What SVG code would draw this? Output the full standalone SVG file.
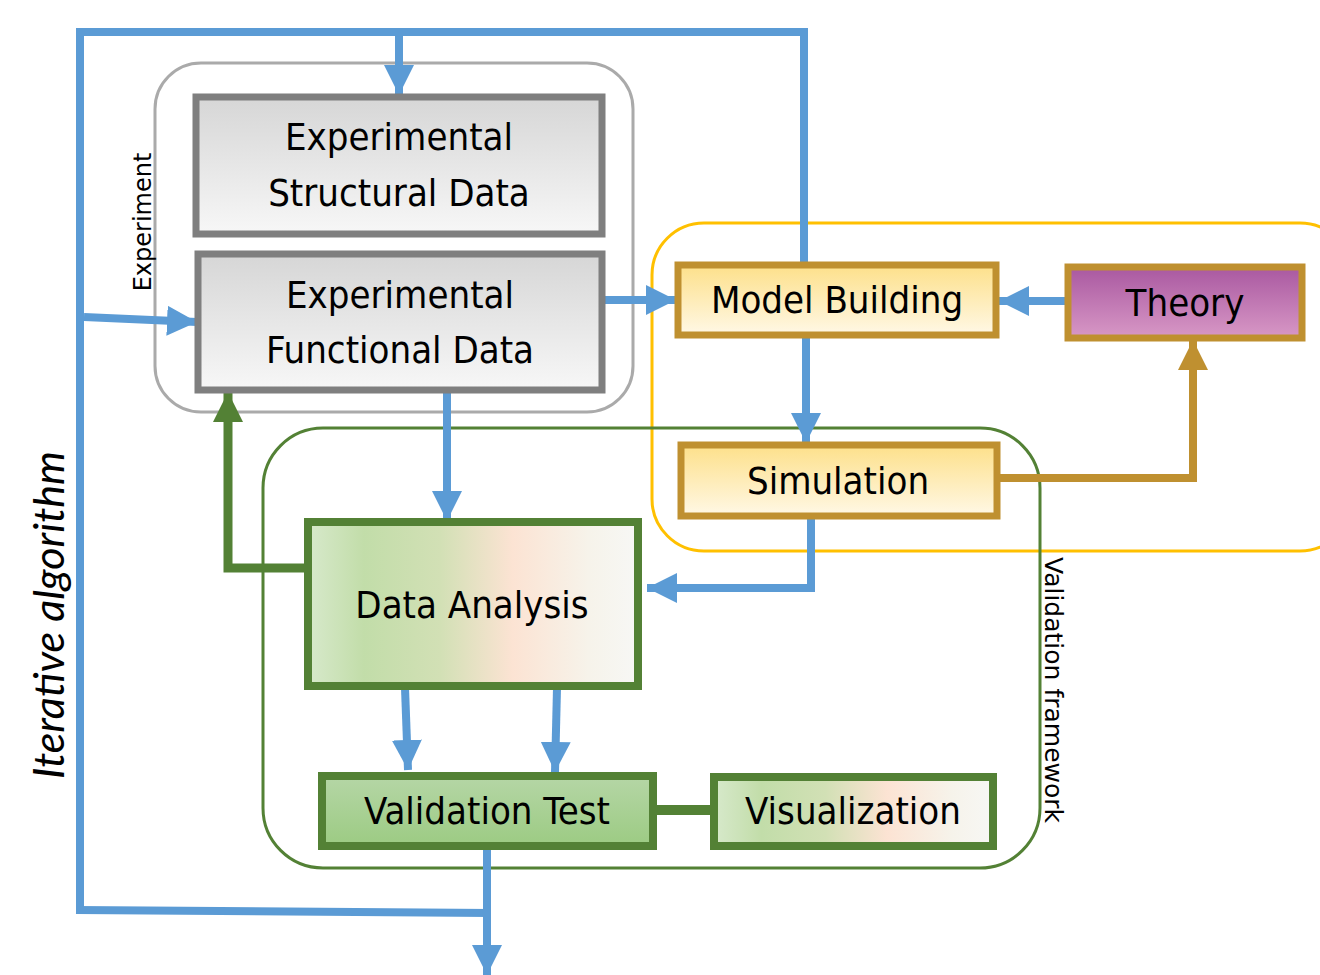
<svg xmlns="http://www.w3.org/2000/svg" width="1320" height="975" viewBox="0 0 1320 975">
<defs>
<linearGradient id="gGray" x1="0" y1="0" x2="0" y2="1"><stop offset="0" stop-color="#d6d6d6"/><stop offset="1" stop-color="#f7f7f7"/></linearGradient>
<linearGradient id="gGold" x1="0" y1="0" x2="0" y2="1"><stop offset="0" stop-color="#fde08a"/><stop offset="1" stop-color="#fff8e6"/></linearGradient>
<linearGradient id="gPurple" x1="0" y1="0" x2="0" y2="1"><stop offset="0" stop-color="#a958a0"/><stop offset="1" stop-color="#d898c6"/></linearGradient>
<linearGradient id="gGreenV" x1="0" y1="0" x2="0" y2="1"><stop offset="0" stop-color="#b5d6a6"/><stop offset="1" stop-color="#9ccb83"/></linearGradient>
<linearGradient id="gMix" x1="0" y1="0" x2="1" y2="0"><stop offset="0" stop-color="#d7e9cb"/><stop offset="0.17" stop-color="#c2dda9"/><stop offset="0.4" stop-color="#d2e0b5"/><stop offset="0.62" stop-color="#fce3d3"/><stop offset="0.85" stop-color="#f6f3ea"/><stop offset="1" stop-color="#f7f7f5"/></linearGradient>
<marker id="aBlue" markerUnits="userSpaceOnUse" viewBox="0 0 30 30" refX="30" refY="15" markerWidth="30" markerHeight="30" orient="auto"><path d="M0,0 L30,15 L0,30 Z" fill="#5b9bd5"/></marker>
<marker id="aGreen" markerUnits="userSpaceOnUse" viewBox="0 0 30 30" refX="30" refY="15" markerWidth="30" markerHeight="30" orient="auto"><path d="M0,0 L30,15 L0,30 Z" fill="#538135"/></marker>
<marker id="aGold" markerUnits="userSpaceOnUse" viewBox="0 0 30 30" refX="30" refY="15" markerWidth="30" markerHeight="30" orient="auto"><path d="M0,0 L30,15 L0,30 Z" fill="#bf9030"/></marker>
</defs>
<style>
.lbl{font-family:'DejaVu Sans Condensed','DejaVu Sans',sans-serif;font-stretch:condensed;font-size:38px;fill:#000;text-anchor:middle}
.side{font-family:'DejaVu Sans',sans-serif;fill:#000;text-anchor:middle}
.blue{fill:none;stroke:#5b9bd5;stroke-width:8}
.green{fill:none;stroke:#538135;stroke-width:9}
.gold{fill:none;stroke:#bf9030;stroke-width:8}
.boxGray{stroke:#7f7f7f;stroke-width:7}
.boxGold{stroke:#bf9030;stroke-width:7}
.boxGreen{stroke:#538135;stroke-width:8}
</style>
<rect width="1320" height="975" fill="#fff"/>
<g id="containers">
<rect id="experiment-frame" x="155" y="63" width="478" height="349" rx="46" fill="none" stroke="#aaaaaa" stroke-width="3"/>
<rect id="model-frame" x="652" y="223" width="700" height="328" rx="52" fill="none" stroke="#ffc000" stroke-width="3"/>
<rect id="validation-frame" x="263" y="428" width="777" height="440" rx="60" fill="none" stroke="#538135" stroke-width="3"/>
<text class="side" font-size="24" transform="translate(151,222) rotate(-90)">Experiment</text>
<text class="side" font-size="25" transform="translate(1045,690) rotate(90)">Validation framework</text>
<text transform="translate(64,615) rotate(-90)" style="font-family:Lato,'Open Sans',sans-serif;font-style:italic;font-size:43px;text-anchor:middle">Iterative algorithm</text>
</g>
<g id="connectors">
<polyline class="blue" points="80,910 80,32 808,32"/>
<line class="blue" x1="804" y1="32" x2="804" y2="262"/>
<line class="blue" x1="399" y1="32" x2="399" y2="95" marker-end="url(#aBlue)"/>
<line class="blue" x1="84" y1="317" x2="197" y2="322" marker-end="url(#aBlue)"/>
<line class="blue" x1="605" y1="300" x2="676" y2="300" marker-end="url(#aBlue)"/>
<line class="blue" x1="1068" y1="301" x2="999" y2="301" marker-end="url(#aBlue)"/>
<line class="blue" x1="806" y1="338" x2="806" y2="443" marker-end="url(#aBlue)"/>
<line class="blue" x1="447" y1="388" x2="447" y2="521" marker-end="url(#aBlue)"/>
<polyline class="blue" points="811,514 811,588 647,588" marker-end="url(#aBlue)"/>
<line class="blue" x1="405" y1="688" x2="408" y2="770" marker-end="url(#aBlue)"/>
<line class="blue" x1="557" y1="688" x2="555" y2="772" marker-end="url(#aBlue)"/>
<line class="blue" x1="76" y1="910" x2="491" y2="913"/>
<line class="blue" x1="487" y1="848" x2="487" y2="975" marker-end="url(#aBlue)"/>
<polyline class="green" points="307,568 228,568 228,392" marker-end="url(#aGreen)"/>
<line x1="653" y1="810" x2="714" y2="810" stroke="#538135" stroke-width="10"/>
<polyline class="gold" points="1000,478 1193,478 1193,340" marker-end="url(#aGold)"/>
</g>
<g id="exp-structural">
<rect class="boxGray" x="196" y="97" width="406" height="137" fill="url(#gGray)"/>
<text class="lbl" x="399" y="150">Experimental</text>
<text class="lbl" x="399" y="206">Structural Data</text>
</g>
<g id="exp-functional">
<rect class="boxGray" x="198" y="254" width="404" height="136" fill="url(#gGray)"/>
<text class="lbl" x="400" y="308">Experimental</text>
<text class="lbl" x="400" y="363">Functional Data</text>
</g>
<g id="model-building">
<rect class="boxGold" x="678" y="265" width="318" height="70" fill="url(#gGold)"/>
<text class="lbl" x="837" y="313">Model Building</text>
</g>
<g id="theory">
<rect class="boxGold" x="1068" y="267" width="234" height="71" fill="url(#gPurple)"/>
<text class="lbl" x="1185" y="316">Theory</text>
</g>
<g id="simulation">
<rect class="boxGold" x="681" y="445" width="316" height="71" fill="url(#gGold)"/>
<text class="lbl" x="838" y="494">Simulation</text>
</g>
<g id="data-analysis">
<rect class="boxGreen" x="308" y="522" width="330" height="164" fill="url(#gMix)"/>
<text class="lbl" x="472" y="618">Data Analysis</text>
</g>
<g id="validation-test">
<rect class="boxGreen" x="322" y="776" width="331" height="70" fill="url(#gGreenV)"/>
<text class="lbl" x="487" y="824">Validation Test</text>
</g>
<g id="visualization">
<rect class="boxGreen" x="714" y="777" width="279" height="69" fill="url(#gMix)"/>
<text class="lbl" x="853" y="824">Visualization</text>
</g>
</svg>
